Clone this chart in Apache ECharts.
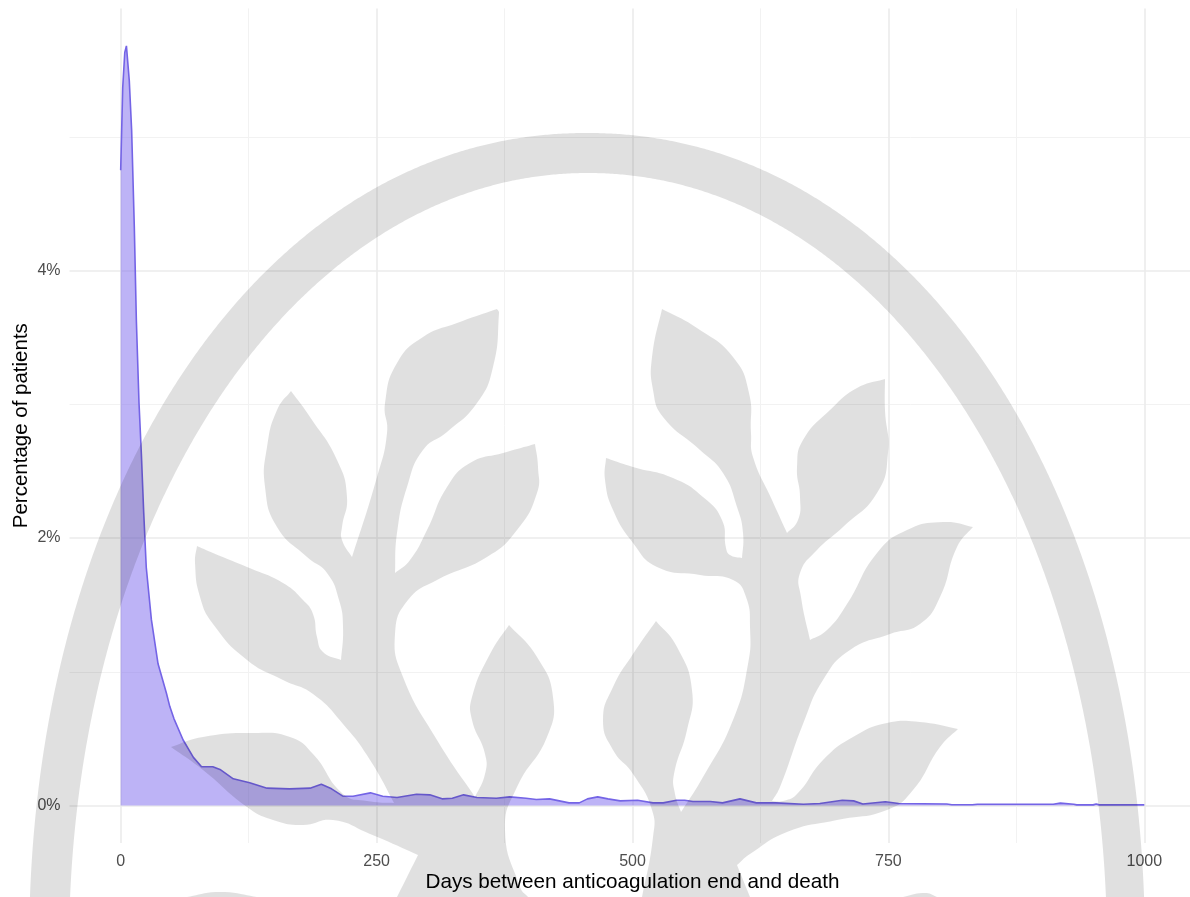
<!DOCTYPE html>
<html>
<head>
<meta charset="utf-8">
<style>html,body{margin:0;padding:0;background:#fff}#c{width:1190px;height:897px}</style>
<script src="https://cdn.jsdelivr.net/npm/echarts@6/dist/echarts.min.js"></script>
</head>
<body>
<div id="c"></div>
<script>
const days = [0,2,4,5.6,8.4,10.7,13.3,15.3,17.9,20.2,22.5,25,30,36.5,44.7,48,52,61,71,79,90,97,110,126,143,165,185,196,206,217,227,244,256,270,289,302,314,324,335,348,367,380,396,406,419,438,448,456,466,476,488,505,520,530,543,551,559,576,588,605,621,640,667,683,705,716,725,747,760,807,812,832,837,911,918,931,934,950,953,956,1000];
const percent = [4.75,5.37,5.63,5.68,5.42,5.05,4.33,3.63,3.01,2.63,2.19,1.78,1.39,1.06,0.84,0.74,0.65,0.49,0.36,0.29,0.29,0.27,0.2,0.17,0.13,0.125,0.13,0.16,0.125,0.07,0.07,0.095,0.07,0.06,0.085,0.08,0.05,0.055,0.08,0.06,0.055,0.065,0.055,0.045,0.05,0.02,0.02,0.05,0.065,0.05,0.035,0.04,0.02,0.02,0.04,0.04,0.03,0.03,0.02,0.05,0.02,0.02,0.01,0.015,0.04,0.035,0.012,0.028,0.015,0.012,0.006,0.006,0.01,0.01,0.018,0.01,0.005,0.005,0.012,0.005,0.005];
const xTicks = [0,250,500,750,1000];
const xMinorTicks = [125,375,625,875];
const yTicks = [0,2,4];
const yMinorTicks = [1,3,5];
const xTitle = 'Days between anticoagulation end and death';
const yTitle = 'Percentage of patients';

// Decorative background logo (traced outlines, page pixels); 'c' marks a sharp corner.
const treeLeft = ['c',[397,897],'c',[418,855],[370,834],[333,820],[303,825],[273,820],[247,807],[203,770],'c',[171,747],[203,737],[253,733],[290,737],[313,754],[343,794],[367,801],'c',[394,803],[370,760],[343,724],[313,694],[283,680],[247,660],[213,624],[200,597],[195,563],'c',[197,546],[213,553],[247,567],[283,583],[303,600],[313,614],[317,637],[323,652],'c',[341,660],[343,627],[339,600],[327,573],[307,557],[277,527],[265,487],[267,447],[277,410],'c',[291,391],[310,417],[337,460],[347,497],[342,527],[342,540],'c',[352,557],[377,477],[387,433],[385,403],[397,363],[423,337],[457,323],'c',[497,309],[499,313],[493,367],[477,403],[447,432],[423,450],[407,487],[397,533],'c',[395,573],[410,560],[427,530],[447,487],[470,463],[503,453],'c',[535,444],[538,467],[537,493],[517,530],[487,557],[437,580],[408,600],[395,634],[403,677],[437,740],'c',[475,797],[485,774],[485,754],[472,720],[472,697],[490,654],'c',[509,625],[537,657],[553,697],[547,737],[517,787],[505,830],[520,887],'c',[528,897]];
const treeRight = ['c',[642,897],[653,837],[652,810],[633,774],[613,750],[603,720],[613,687],[633,654],'c',[656,621],[677,647],[692,690],[687,730],[674,774],[675,794],'c',[681,812],[703,777],[733,720],[748,664],[750,627],[746,597],[733,580],[700,575],[657,567],[633,543],[613,510],[605,480],'c',[606,458],[633,467],[673,478],[703,497],[722,520],[726,548],[730,555],'c',[742,558],[743,533],[737,507],[723,473],[700,450],[663,417],[653,390],[652,357],'c',[662,309],[697,328],[733,357],[749,393],[751,433],[753,457],[772,500],'c',[787,533],[798,520],[800,497],[797,467],[803,440],[830,410],[857,388],'c',[885,379],[885,410],[888,453],[877,493],[843,527],[817,550],[800,573],[801,597],'c',[810,640],[827,630],[847,604],[877,553],[907,530],[943,522],'c',[973,527],[957,547],[940,597],[920,624],[890,634],[850,650],[823,680],[803,724],[780,787],'c',[772,801],[783,801],[797,794],[823,760],[853,737],[887,723],[920,722],'c',[958,729],[940,747],[913,790],[887,810],[837,820],[787,832],[750,854],'c',[737,865],'c',[750,897]];
const bottomBits = [['c',[187,897],[220,892],'c',[257,897]],['c',[903,897],[925,893],'c',[937,897]]];

function dist(a,b){return Math.hypot(a[0]-b[0],a[1]-b[1]);}
function smoothPolygon(list){
  const pts=[];
  for(let i=0;i<list.length;i++){
    if(list[i]==='c'){const p=list[++i];pts.push(p,p);} else pts.push(list[i]);
  }
  const out=[pts[0]];
  for(let i=0;i<pts.length-1;i++){
    const p0=pts[i-1]||pts[i],p1=pts[i],p2=pts[i+1],p3=pts[i+2]||p2;
    if(p1===p2) continue;
    const d1=dist(p0,p1),d2=dist(p1,p2),d3=dist(p2,p3);
    const s1=d2/(d1+d2)/3*1.5, s2=d2/(d2+d3)/3*1.5;
    const k1=p0===p1?1/3:s1, k2=p2===p3?1/3:s2;
    const c1=[p1[0]+(p2[0]-p0[0])*k1,p1[1]+(p2[1]-p0[1])*k1];
    const c2=[p2[0]-(p3[0]-p1[0])*k2,p2[1]-(p3[1]-p1[1])*k2];
    for(let k=1;k<=10;k++){
      const t=k/10,u=1-t;
      out.push([0,1].map(a=>u*u*u*p1[a]+3*u*u*t*c1[a]+3*u*t*t*c2[a]+t*t*t*p2[a]));
    }
  }
  return out;
}
// Arch: two super-elliptic edges joined below the bottom of the page.
function archEdge(cx,cy,a,b,p){
  const out=[];
  for(let i=0;i<=800;i++){
    const th=-Math.PI/2+Math.PI*i/800;
    const dx=a*Math.sin(th);
    const y=cy-b*Math.pow(Math.max(0,1-Math.pow(Math.abs(dx)/a,p)),1/p);
    if(y<=900) out.push([cx+dx,y]);
  }
  return out;
}
const archPolygon = archEdge(587,950,558,817,2.07).concat(archEdge(588,950,519,777,2.03).reverse());

const wm = 'rgba(0,0,0,0.12)';
const logoShapes = [archPolygon, smoothPolygon(treeLeft), smoothPolygon(treeRight), ...bottomBits.map(smoothPolygon)];

const font = '"Liberation Sans", Arial, sans-serif';
const chart = echarts.init(document.getElementById('c'), null, {renderer:'canvas'});
const major = {show:true, lineStyle:{color:'#ebebeb', width:1.6}};
const minor = {show:true, lineStyle:{color:'#f2f2f2', width:1}};
const hiddenAxis = {axisLine:{show:false}, axisLabel:{show:false}};
chart.setOption({
  animation:false,
  backgroundColor:'#fff',
  grid:{left:69.5, top:8.4, width:1126, height:834.6, containLabel:false, outerBoundsMode:'none'},
  xAxis:[
    {type:'value', min:-50, max:1050, name:xTitle, nameLocation:'middle', nameGap:29, nameMoveOverlap:false,
     nameTextStyle:{fontFamily:font, fontSize:20.7, color:'#000'},
     axisLine:{show:false, onZero:false}, axisTick:{show:false, customValues:xTicks},
     axisLabel:{customValues:xTicks, formatter:v=>String(v), fontFamily:font, fontSize:16, color:'#4d4d4d', margin:11},
     splitLine:major},
    {type:'value', min:-50, max:1050, position:'bottom', axisTick:{show:false, customValues:xMinorTicks},
     ...hiddenAxis, splitLine:minor}
  ],
  yAxis:[
    {type:'value', min:-0.28, max:5.96, name:yTitle, nameLocation:'middle', nameGap:38, nameRotate:90, nameMoveOverlap:false,
     nameTextStyle:{fontFamily:font, fontSize:20.5, color:'#000'},
     axisLine:{show:false, onZero:false}, axisTick:{show:false, customValues:yTicks},
     axisLabel:{customValues:yTicks, formatter:v=>v+'%', fontFamily:font, fontSize:16, color:'#4d4d4d', margin:9, padding:[3,0,0,0]},
     splitLine:major},
    {type:'value', min:-0.28, max:5.96, position:'left', axisTick:{show:false, customValues:yMinorTicks},
     ...hiddenAxis, splitLine:minor}
  ],
  series:[{
    type:'line', xAxisIndex:0, yAxisIndex:0, showSymbol:false, smooth:false, silent:true, clip:false,
    data:days.map((d,i)=>[d,percent[i]]),
    lineStyle:{color:'#7464e6', width:1.6},
    areaStyle:{color:'#7B68EE', opacity:0.5, origin:'auto'}
  }],
  graphic:{elements:logoShapes.map(p=>({type:'polygon', silent:true, z:100, shape:{points:p}, style:{fill:wm}}))}
});
</script>
</body>
</html>
